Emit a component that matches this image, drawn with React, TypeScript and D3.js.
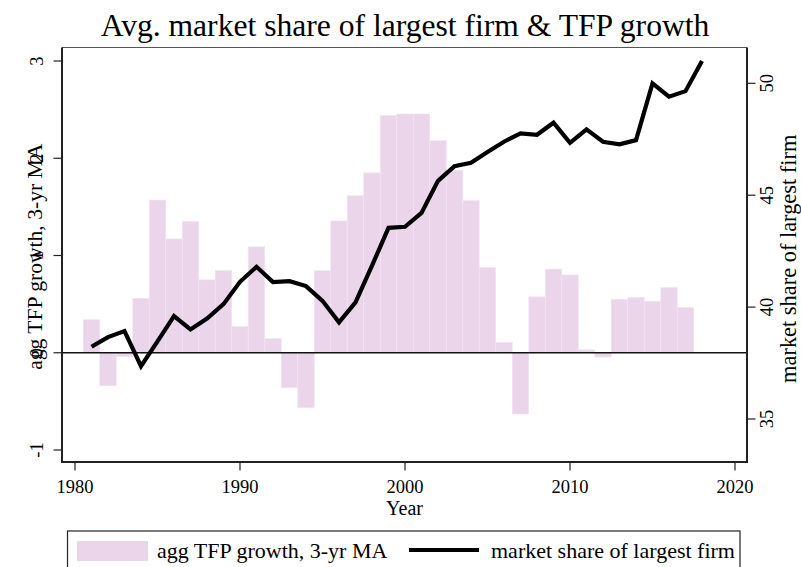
import React from "react";
import * as d3 from "d3";

const tfpYears: number[] = d3.range(1981, 2018);
const tfpValues: number[] = [
  0.34, -0.34, -0.04, 0.56, 1.57, 1.17, 1.35, 0.75, 0.845, 0.27,
  1.09, 0.147, -0.36, -0.565, 0.845, 1.355, 1.615, 1.85, 2.44, 2.455,
  2.455, 2.18, 1.875, 1.565, 0.876, 0.106, -0.63, 0.575, 0.86, 0.8,
  0.03, -0.045, 0.55, 0.57, 0.53, 0.67, 0.465,
];
const shareYears: number[] = d3.range(1981, 2019);
const shareValues: number[] = [
  38.23, 38.66, 38.93, 37.36, 38.47, 39.6, 39.0, 39.49, 40.13, 41.13,
  41.8, 41.12, 41.16, 40.94, 40.28, 39.32, 40.21, 41.85, 43.54, 43.59,
  44.21, 45.64, 46.3, 46.45, 46.93, 47.39, 47.76, 47.7, 48.24, 47.34,
  47.94, 47.39, 47.27, 47.46, 50.0, 49.4, 49.65, 51.0,
];
const xTicks: number[] = [1980, 1990, 2000, 2010, 2020];
const leftTicks: number[] = [-1, 0, 1, 2, 3];
const rightTicks: number[] = [35, 40, 45, 50];

const title = "Avg. market share of largest firm & TFP growth";
const xTitle = "Year";
const leftTitle = "agg TFP growth, 3-yr MA";
const rightTitle = "market share of largest firm";

export default function App() {
  const W = 801, H = 567;
  const font = "'Liberation Serif', 'Times New Roman', serif";
  const box = { l: 62, r: 747, t: 47.5, b: 462 };
  const x = d3.scaleLinear().domain([1980, 2020]).range([75, 735]);
  const yL = d3.scaleLinear().domain([-1, 3]).range([450, 61]);
  const yR = d3.scaleLinear().domain([35, 50]).range([419, 83.3]);
  const bw = x(1981) - x(1980);
  const barFill = "#ebd5eb";

  const line = d3
    .line<number>()
    .x((_, i) => x(shareYears[i]))
    .y((d) => yR(d))
    .curve(d3.curveLinear);

  return (
    <svg
      width={W}
      height={H}
      style={{ position: "absolute", left: 0, top: 0, background: "#fff" }}
      fontFamily={font}
    >
      <rect x={0} y={0} width={W} height={H} fill="#fff" />
      {/* title */}
      <text x={405} y={36} textAnchor="middle" fontSize={31.6} fill="#000">
        {title}
      </text>

      {/* bars */}
      {tfpValues.map((v, i) => {
        const y0 = yL(0);
        const y1 = yL(v);
        return (
          <rect
            key={i}
            x={x(tfpYears[i]) - bw / 2}
            y={Math.min(y0, y1)}
            width={bw}
            height={Math.abs(y1 - y0)}
            fill={barFill}
            stroke="#f2e4f2"
            strokeWidth={0.6}
          />
        );
      })}

      {/* zero line */}
      <line x1={box.l} x2={box.r} y1={yL(0)} y2={yL(0)} stroke="#111" strokeWidth={1.4} />

      {/* market share line */}
      <path
        d={line(shareValues) || ""}
        fill="none"
        stroke="#000"
        strokeWidth={4.2}
        strokeLinejoin="miter"
        strokeMiterlimit={3}
      />

      {/* plot box */}
      <line x1={box.l} x2={box.r} y1={box.t} y2={box.t} stroke="#555" strokeWidth={1} />
      <line x1={box.l} x2={box.l} y1={box.t} y2={box.b + 1} stroke="#222" strokeWidth={2} />
      <line x1={box.r} x2={box.r} y1={box.t} y2={box.b + 1} stroke="#222" strokeWidth={2} />
      <line x1={box.l - 1} x2={box.r + 1} y1={box.b} y2={box.b} stroke="#222" strokeWidth={2.2} />

      {/* x axis */}
      {xTicks.map((t) => (
        <g key={t}>
          <line x1={x(t)} x2={x(t)} y1={box.b} y2={box.b + 8.5} stroke="#222" strokeWidth={1.2} />
          <text x={x(t)} y={493} textAnchor="middle" fontSize={18.5}>
            {t}
          </text>
        </g>
      ))}
      <text x={404.5} y={515} textAnchor="middle" fontSize={20}>
        {xTitle}
      </text>

      {/* left axis */}
      {leftTicks.map((t) => (
        <g key={t}>
          <line x1={box.l - 8.5} x2={box.l} y1={yL(t)} y2={yL(t)} stroke="#222" strokeWidth={1.2} />
          <text
            transform={`translate(43,${yL(t)}) rotate(-90)`}
            textAnchor="middle"
            fontSize={18.5}
          >
            {t}
          </text>
        </g>
      ))}
      <text
        transform={`translate(42,${(box.t + box.b) / 2 + 2}) rotate(-90)`}
        textAnchor="middle"
        fontSize={21.6}
      >
        {leftTitle}
      </text>

      {/* right axis */}
      {rightTicks.map((t) => (
        <g key={t}>
          <line x1={box.r} x2={box.r + 8.5} y1={yR(t)} y2={yR(t)} stroke="#222" strokeWidth={1.2} />
          <text
            transform={`translate(773,${yR(t)}) rotate(-90)`}
            textAnchor="middle"
            fontSize={18.5}
          >
            {t}
          </text>
        </g>
      ))}
      <text
        transform={`translate(795.5,${(box.t + box.b) / 2 + 4}) rotate(-90)`}
        textAnchor="middle"
        fontSize={22.4}
      >
        {rightTitle}
      </text>

      {/* legend */}
      <rect x={67.5} y={531} width={672.5} height={60} fill="#fff" stroke="#222" strokeWidth={1.2} />
      <rect x={77} y={541} width={71} height={20} fill={barFill} />
      <text x={157} y={558} fontSize={22}>
        {leftTitle}
      </text>
      <line x1={409} x2={479} y1={550} y2={550} stroke="#000" strokeWidth={4.2} />
      <text x={491} y={558} fontSize={22}>
        {rightTitle}
      </text>
    </svg>
  );
}
